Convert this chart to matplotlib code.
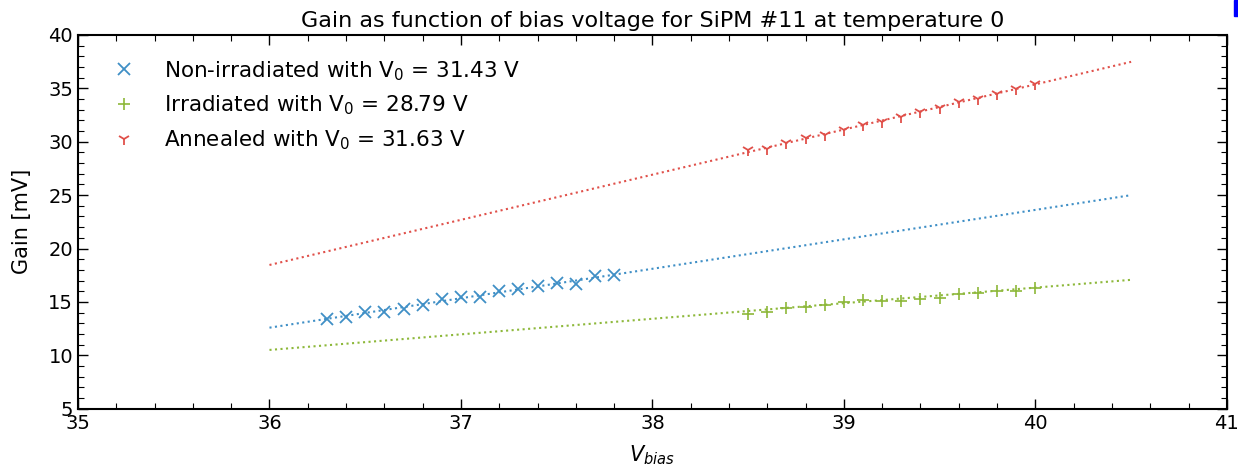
import numpy as np
import matplotlib
matplotlib.use('Agg')
import matplotlib.pyplot as plt
from matplotlib.ticker import MultipleLocator
from matplotlib.patches import Rectangle

v_nonirr = [36.3, 36.4, 36.5, 36.6, 36.7, 36.8, 36.9, 37.0,
            37.1, 37.2, 37.3, 37.4, 37.5, 37.6, 37.7, 37.8]
gain_nonirr = [13.4, 13.6, 14.1, 14.1, 14.3, 14.7, 15.3, 15.5,
               15.5, 16.0, 16.2, 16.5, 16.8, 16.7, 17.4, 17.5]

v_irr = [38.5, 38.6, 38.7, 38.8, 38.9, 39.0, 39.1, 39.2,
         39.3, 39.4, 39.5, 39.6, 39.7, 39.8, 39.9, 40.0]
gain_irr = [13.9, 14.1, 14.4, 14.5, 14.7, 15.0, 15.2, 15.1,
            15.1, 15.3, 15.4, 15.7, 15.8, 16.0, 16.0, 16.3]

v_ann = [38.5, 38.6, 38.7, 38.8, 38.9, 39.0, 39.1, 39.2,
         39.3, 39.4, 39.5, 39.6, 39.7, 39.8, 39.9, 40.0]
gain_ann = [29.2, 29.3, 29.9, 30.3, 30.6, 31.1, 31.6, 31.8,
            32.3, 32.8, 33.2, 33.7, 34.0, 34.5, 34.9, 35.4]

# 피팅 결과: gain = slope * (V - V0)
v0 = {'nonirr': 31.43, 'irr': 28.79, 'ann': 31.63}
slope = {'nonirr': 2.756, 'irr': 1.458, 'ann': 4.225}
fit_range = [36.0, 40.5]

c_blue = '#3f8fc6'
c_green = '#8db83a'
c_red = '#e0504a'

plt.rcParams['font.family'] = 'DejaVu Sans'

fig = plt.figure(figsize=(12.38, 4.71), dpi=100)
ax = fig.add_axes([0.063, 0.132, 0.928, 0.794])

vfit = np.linspace(fit_range[0], fit_range[1], 50)
ax.plot(vfit, slope['nonirr'] * (vfit - v0['nonirr']), ':', color=c_blue, lw=1.5)
ax.plot(vfit, slope['irr'] * (vfit - v0['irr']), ':', color=c_green, lw=1.5)
ax.plot(vfit, slope['ann'] * (vfit - v0['ann']), ':', color=c_red, lw=1.5)

ax.plot(v_nonirr, gain_nonirr, 'x', color=c_blue, ms=8, mew=1.3,
        label='Non-irradiated with V$_0$ = %.2f V' % v0['nonirr'])
ax.plot(v_irr, gain_irr, '+', color=c_green, ms=9, mew=1.2,
        label='Irradiated with V$_0$ = %.2f V' % v0['irr'])
ax.plot(v_ann, gain_ann, '1', color=c_red, ms=9, mew=1.3,
        label='Annealed with V$_0$ = %.2f V' % v0['ann'])

ax.set_xlim(35, 41)
ax.set_ylim(5, 40)
ax.xaxis.set_major_locator(MultipleLocator(1))
ax.xaxis.set_minor_locator(MultipleLocator(0.2))
ax.yaxis.set_major_locator(MultipleLocator(5))
ax.yaxis.set_minor_locator(MultipleLocator(1))
ax.tick_params(which='both', direction='in', top=True, right=True, labelsize=14)
ax.tick_params(which='major', length=7, width=1)
ax.tick_params(which='minor', length=4, width=0.8)
for s in ax.spines.values():
    s.set_linewidth(1.5)

ax.set_xlabel('$V_{bias}$', fontsize=15, labelpad=8)
ax.set_ylabel('Gain [mV]', fontsize=15, labelpad=12)
ax.set_title('Gain as function of bias voltage for SiPM #11 at temperature 0', fontsize=16, pad=6)

ax.legend(loc='upper left', frameon=False, fontsize=15.5, numpoints=1,
          handletextpad=0.86, borderaxespad=0.72, labelspacing=0.52)

fig.patches.append(Rectangle((0.9965, 0.966), 0.0035, 0.034, transform=fig.transFigure,
                             color='#0000ff', zorder=10))

fig.savefig('out.png', dpi=100)
